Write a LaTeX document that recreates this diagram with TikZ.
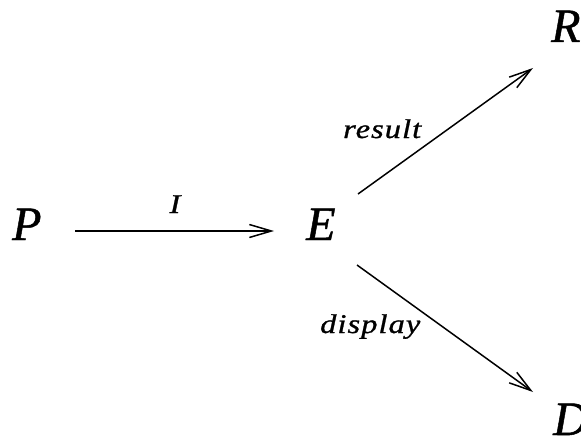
\documentclass[tikz,border=0pt]{standalone}
\usepackage{fontspec}
\setmainfont{Liberation Serif}
\usetikzlibrary{arrows.meta}
\begin{document}
\begin{tikzpicture}[x=1pt,y=1pt,
  big/.style={font=\fontsize{48}{52}\selectfont\itshape\addfontfeature{FakeBold=1}, inner sep=0pt, anchor=base west},
  lbl/.style={font=\fontsize{27}{31}\selectfont\itshape\addfontfeature{FakeStretch=1.2,LetterSpace=4,FakeBold=1}, inner sep=0pt, anchor=base west},
  arr/.style={line width=1.5pt, -{Straight Barb[length=22pt,width=13pt,line width=1.5pt]}}]
\useasboundingbox (0,0) rectangle (581,-436);
\node[big] (P) at (12,-240) {P};
\node[big] (E) at (306,-240) {E};
\node[big] (R) at (551,-42) {R};
\node[big] (D) at (553,-435) {D};
\draw[arr] ([shift={(63pt,9pt)}]P.base west) -- ([shift={(-32pt,9pt)}]E.base west);
\draw[arr] ([shift={(52pt,46pt)}]E.base west) -- ([shift={(-18pt,-26pt)}]R.base west);
\draw[arr] ([shift={(51pt,-25pt)}]E.base west) -- ([shift={(-20pt,43pt)}]D.base west);
\node[lbl, anchor=base] (I) at (175,-213) {I};
\node[lbl] (res) at (343,-138) {result};
\node[lbl] (dis) at (320,-333) {display};
\end{tikzpicture}
\end{document}
